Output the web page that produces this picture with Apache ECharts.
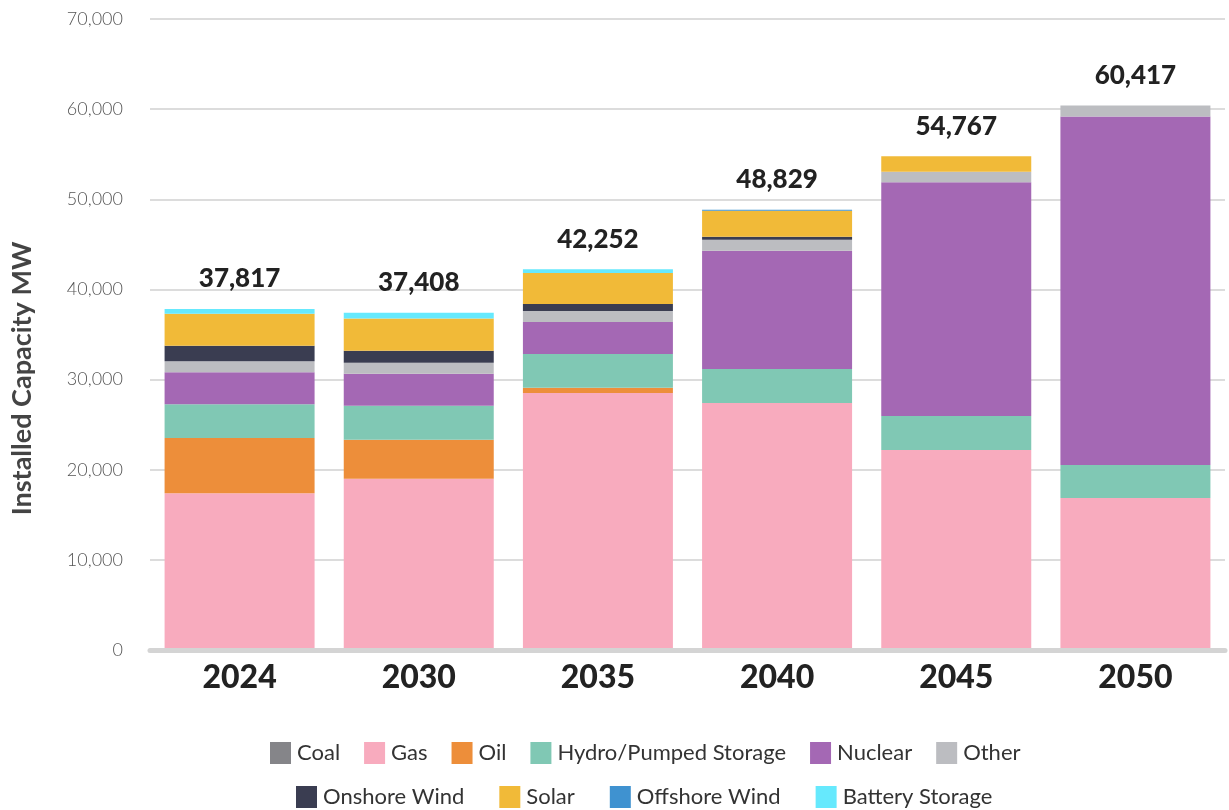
<!DOCTYPE html>
<html>
<head>
<meta charset="utf-8">
<script src="https://cdn.jsdelivr.net/npm/echarts@6/dist/echarts.min.js"></script>
<style>
  html, body { margin: 0; padding: 0; background: #fff; }
  #chart { width: 1229px; height: 810px; }
</style>
</head>
<body>
<div id="chart"></div>
<script>
// Installed capacity by fuel type (MW)
var years = ['2024', '2030', '2035', '2040', '2045', '2050'];
var coal = [0, 0, 0, 0, 0, 0];
var gas = [17400, 19000, 28500, 27390, 22180, 16860];
var oil = [6130, 4325, 590, 0, 0, 0];
var hydro = [3740, 3770, 3740, 3770, 3770, 3660];
var nuclear = [3550, 3550, 3550, 13126, 25927, 38677];
var other = [1220, 1220, 1220, 1220, 1190, 1220];
var onshoreWind = [1700, 1330, 776, 333, 0, 0];
var solar = [3550, 3585, 3440, 2880, 1700, 0];
var offshoreWind = [0, 0, 0, 110, 0, 0];
var battery = [527, 628, 436, 0, 0, 0];
var yTicks = [0, 10000, 20000, 30000, 40000, 50000, 60000, 70000];

var names = ['Coal', 'Gas', 'Oil', 'Hydro/Pumped Storage', 'Nuclear', 'Other',
             'Onshore Wind', 'Solar', 'Offshore Wind', 'Battery Storage'];
var values = [coal, gas, oil, hydro, nuclear, other, onshoreWind, solar, offshoreWind, battery];
var colors = ['#858589', '#F8ABBE', '#ED8E3A', '#80C8B4', '#A468B4', '#BCBDC1',
              '#3A3D51', '#F1BA38', '#3F92D0', '#66E9FD'];

var totals = years.map(function(y, i) {
    return values.reduce(function(s, arr) { return s + arr[i]; }, 0);
});

var series = names.map(function(n, k) {
    return {
        name: n,
        type: 'bar',
        stack: 'total',
        barWidth: 150,
        itemStyle: { color: colors[k] },
        data: values[k]
    };
});

// invisible top-of-stack series carrying the total labels
series.push({
    name: 'Total',
    type: 'bar',
    stack: 'total',
    barWidth: 150,
    silent: true,
    itemStyle: { color: 'transparent' },
    label: {
        show: true,
        position: 'top',
        distance: 17,
        fontFamily: 'Lato',
        fontSize: 26,
        fontWeight: 900,
        color: '#222',
        formatter: function(p) { return totals[p.dataIndex].toLocaleString('en-US'); }
    },
    data: years.map(function() { return 0; })
});

function legendRow(top, left, items, gap) {
    return {
        top: top,
        left: left,
        data: items,
        icon: 'rect',
        itemWidth: 21,
        itemHeight: 22,
        itemGap: gap,
        textStyle: { fontFamily: 'Lato', fontSize: 22, color: '#333', padding: [0, 0, 0, 1] }
    };
}

echarts.init(document.getElementById('chart')).setOption({
    backgroundColor: '#fff',
    animation: false,
    grid: { left: 150, right: 4, top: 19, bottom: 160 },
    legend: [
        legendRow(737, 265, names.slice(0, 6), 24),
        legendRow(781, 291, names.slice(6), 35)
    ],
    xAxis: {
        type: 'category',
        data: years,
        z: 5,
        axisTick: { show: false },
        axisLine: { lineStyle: { color: '#d4d4d4', width: 5 } },
        axisLabel: {
            margin: 12,
            fontFamily: 'Lato',
            fontSize: 32,
            fontWeight: 900,
            color: '#222'
        }
    },
    yAxis: {
        type: 'value',
        min: yTicks[0],
        max: yTicks[yTicks.length - 1],
        interval: 10000,
        name: 'Installed Capacity MW',
        nameLocation: 'middle',
        nameGap: 114,
        nameRotate: 90,
        nameTextStyle: {
            fontFamily: 'Lato',
            fontSize: 27,
            fontWeight: 'bold',
            color: '#444',
            padding: [0, 88, 0, 0]
        },
        axisLabel: {
            margin: 27,
            fontFamily: 'Lato',
            fontSize: 18,
            fontWeight: 300,
            color: '#555',
            formatter: function(v) { return v.toLocaleString('en-US'); }
        },
        splitLine: { lineStyle: { color: '#dcdcdc', width: 2 } }
    },
    series: series
});
</script>
</body>
</html>
